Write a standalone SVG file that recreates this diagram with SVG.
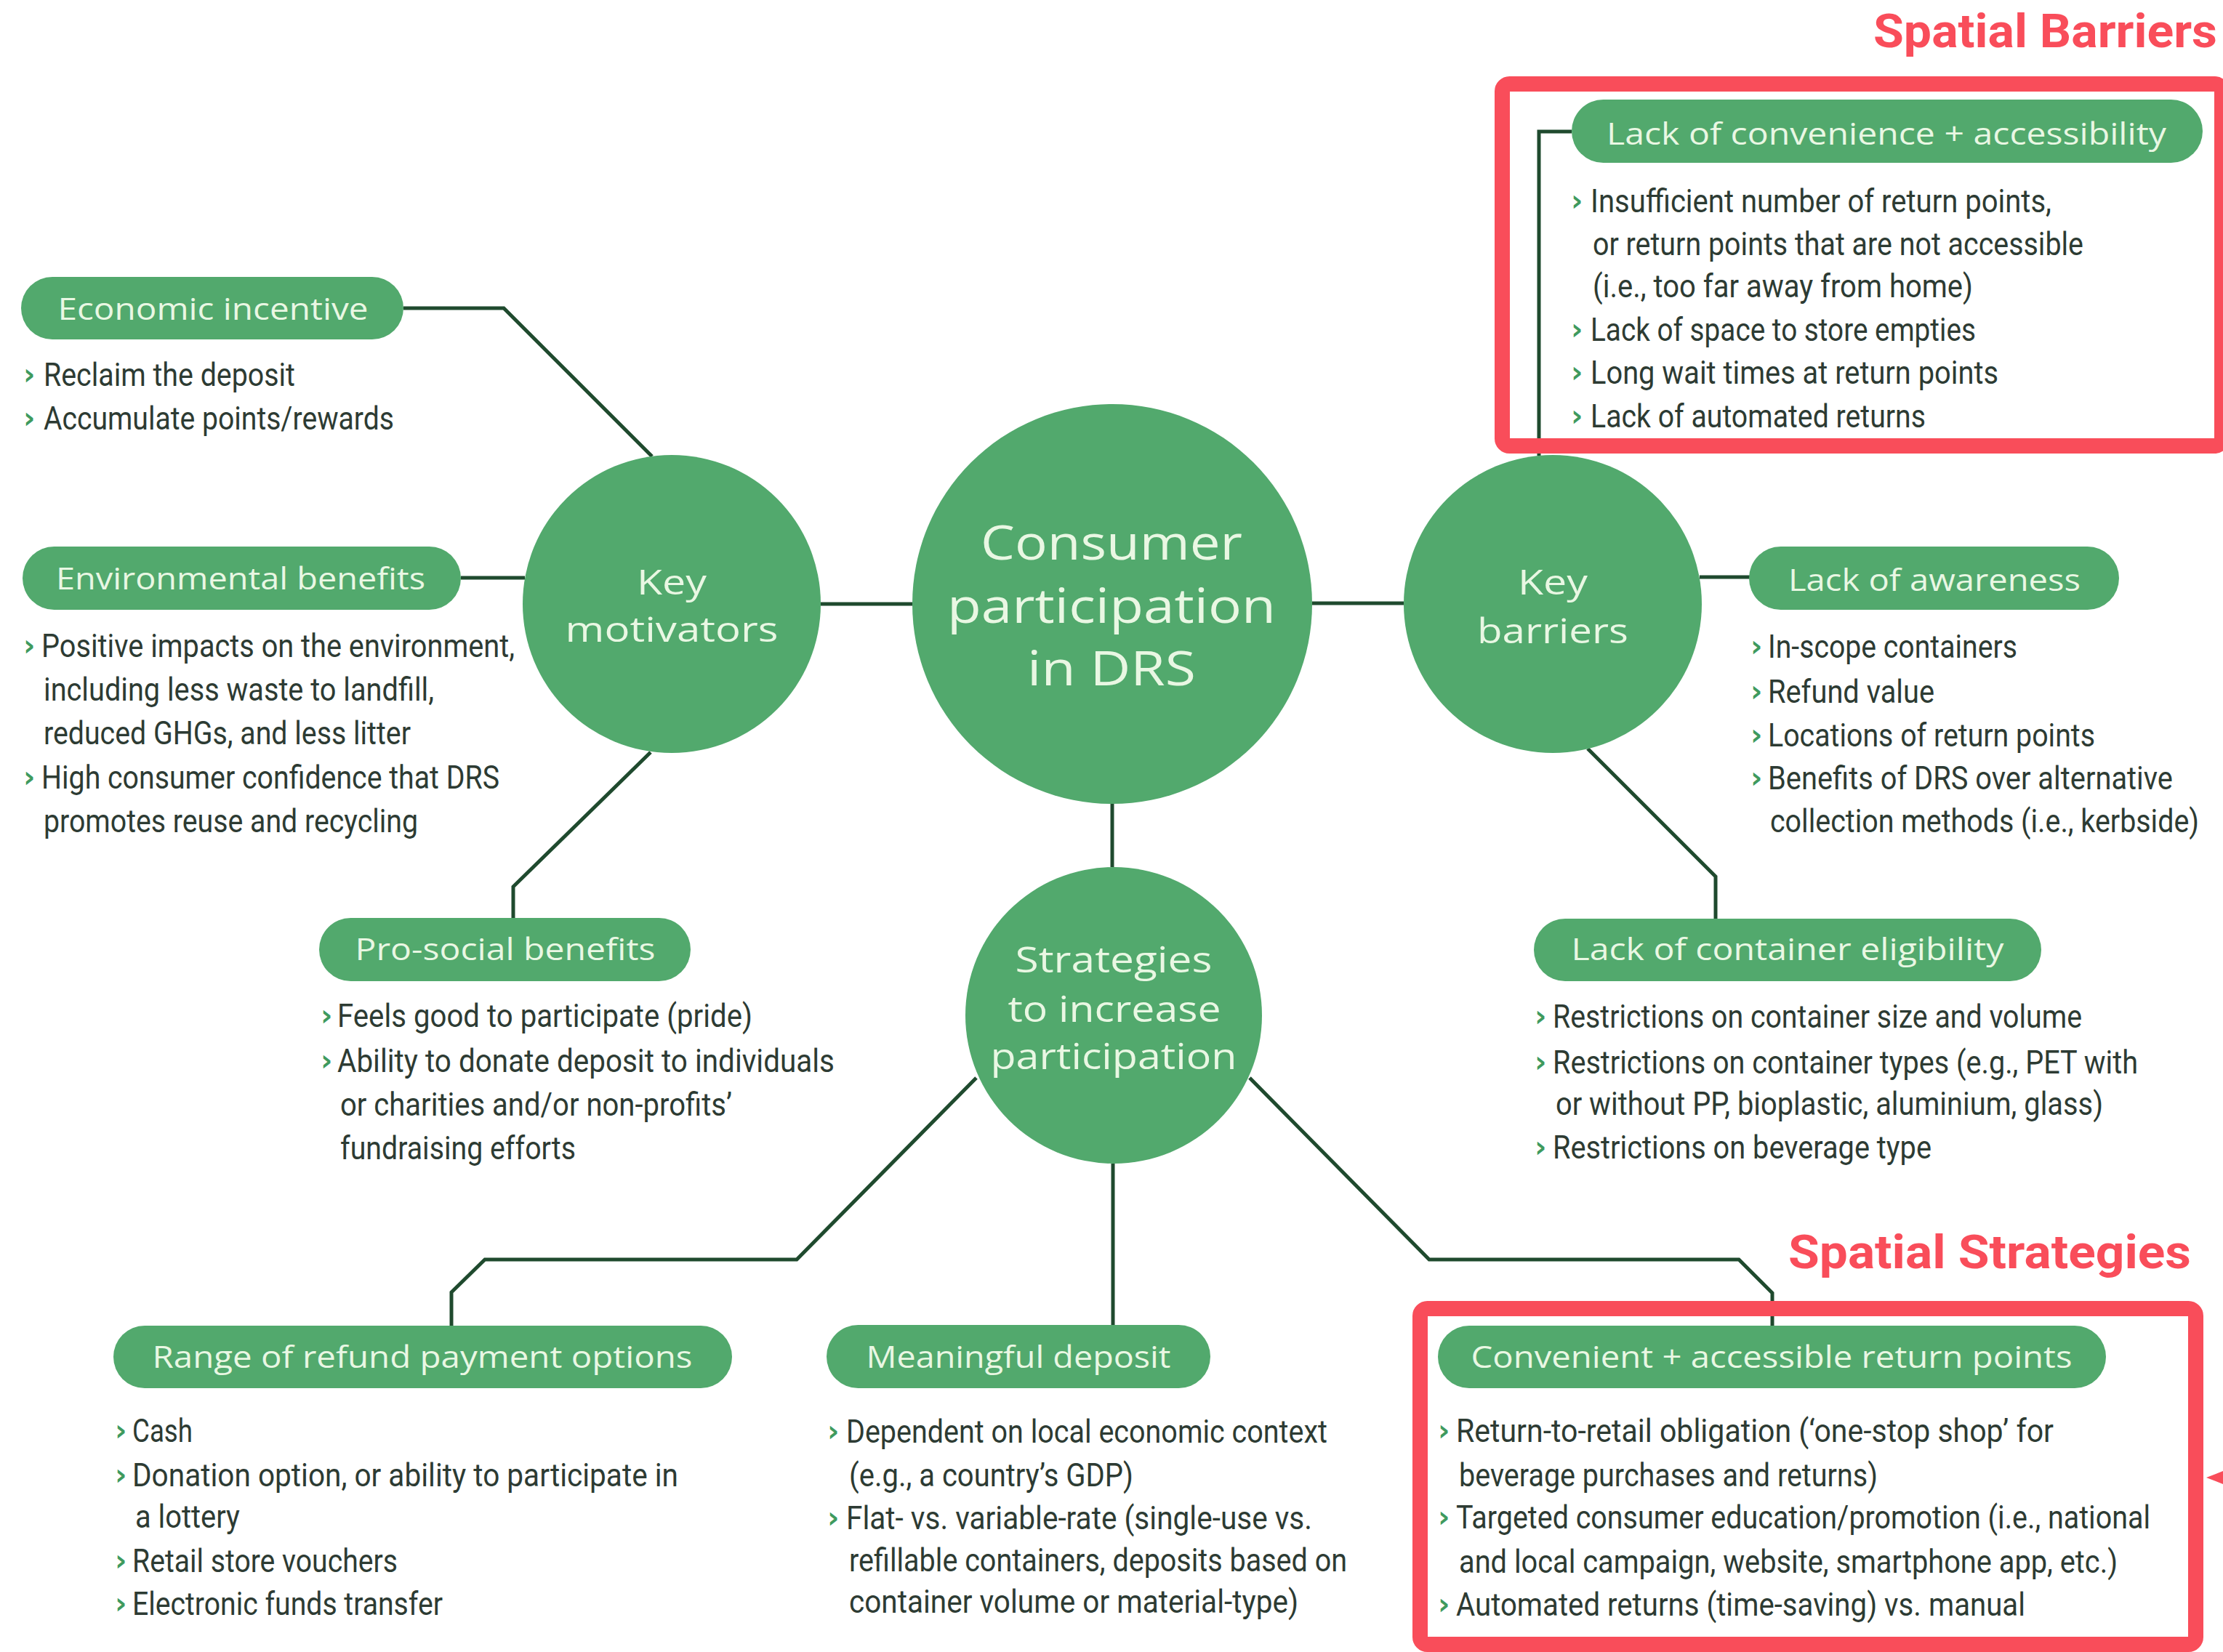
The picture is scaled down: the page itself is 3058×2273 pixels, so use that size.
<svg xmlns="http://www.w3.org/2000/svg" width="3058" height="2273" viewBox="0 0 3058 2273">
<style>
.bg{fill:#ffffff}
.pill{fill:#52A96D}
.circ{fill:#52A96D}
.pt{font-family:"Open Sans","Noto Sans",sans-serif;font-size:42px;fill:#E9F7E3;text-anchor:middle}
.ct{font-family:"Open Sans","Noto Sans",sans-serif;fill:#E9F7E3;text-anchor:middle}
.bt{font-family:Roboto,"Liberation Sans",sans-serif;font-size:44px;fill:#2D3B33}
.chev{font-family:"DejaVu Sans",Roboto,sans-serif;font-size:40px;font-weight:700;fill:#3F9A5E}
.conn{fill:none;stroke:#1F4A2E;stroke-width:5;stroke-linejoin:miter}
.red{fill:none;stroke:#F94D5A;stroke-width:21}
.rt{font-family:Roboto,"Liberation Sans",sans-serif;font-size:64px;font-weight:700;fill:#F94D5A}
</style>
<rect class="bg" x="0" y="0" width="3058" height="2273"/>

<g id="connectors">
<path class="conn" d="M555,424 H693 L897,628"/>
<path class="conn" d="M634,795 H722"/>
<path class="conn" d="M1129,831 H1255"/>
<path class="conn" d="M895,1035 L706,1220 V1263"/>
<path class="conn" d="M1805,830 H1931"/>
<path class="conn" d="M2117,627 V181 H2162"/>
<path class="conn" d="M2338,794 H2408"/>
<path class="conn" d="M2184,1030 L2360,1206 V1265"/>
<path class="conn" d="M1530,1106 V1193"/>
<path class="conn" d="M1343,1483 L1096,1733 H667 L621,1778 V1824"/>
<path class="conn" d="M1531,1601 V1824"/>
<path class="conn" d="M1719,1483 L1966,1733 H2392 L2438,1779 V1825"/>
</g>

<g id="center">
<circle class="circ" cx="1530" cy="831" r="275"/>
<text class="ct" x="1529" y="770" font-size="66" textLength="360" lengthAdjust="spacingAndGlyphs">Consumer</text>
<text class="ct" x="1529" y="857" font-size="66" textLength="452" lengthAdjust="spacingAndGlyphs">participation</text>
<text class="ct" x="1529" y="943" font-size="66" textLength="232" lengthAdjust="spacingAndGlyphs">in DRS</text>
</g>

<g id="key-motivators">
<circle class="circ" cx="924" cy="831" r="205"/>
<text class="ct" x="924" y="818" font-size="48" textLength="96" lengthAdjust="spacingAndGlyphs">Key</text>
<text class="ct" x="924" y="883" font-size="48" textLength="293" lengthAdjust="spacingAndGlyphs">motivators</text>
</g>

<g id="key-barriers">
<circle class="circ" cx="2136" cy="831" r="205"/>
<text class="ct" x="2136" y="818" font-size="48" textLength="96" lengthAdjust="spacingAndGlyphs">Key</text>
<text class="ct" x="2136" y="885" font-size="48" textLength="208" lengthAdjust="spacingAndGlyphs">barriers</text>
</g>

<g id="strategies">
<circle class="circ" cx="1532" cy="1397" r="204"/>
<text class="ct" x="1532" y="1338" font-size="50" textLength="271" lengthAdjust="spacingAndGlyphs">Strategies</text>
<text class="ct" x="1533" y="1406" font-size="50" textLength="293" lengthAdjust="spacingAndGlyphs">to increase</text>
<text class="ct" x="1532" y="1471" font-size="50" textLength="339" lengthAdjust="spacingAndGlyphs">participation</text>
</g>

<g id="economic-incentive">
<rect class="pill" x="29" y="381" width="526" height="86" rx="43"/>
<text class="pt" x="293" y="440" textLength="427" lengthAdjust="spacingAndGlyphs">Economic incentive</text>
<text class="chev" x="32" y="529">›</text>
<text class="bt" x="60" y="531" textLength="346" lengthAdjust="spacingAndGlyphs">Reclaim the deposit</text>
<text class="chev" x="32" y="589">›</text>
<text class="bt" x="60" y="591" textLength="482" lengthAdjust="spacingAndGlyphs">Accumulate points/rewards</text>
</g>

<g id="environmental-benefits">
<rect class="pill" x="31" y="752" width="603" height="87" rx="43.5"/>
<text class="pt" x="331" y="811" textLength="508" lengthAdjust="spacingAndGlyphs">Environmental benefits</text>
<text class="chev" x="32" y="902">›</text>
<text class="bt" x="57" y="904" textLength="651" lengthAdjust="spacingAndGlyphs">Positive impacts on the environment,</text>
<text class="bt" x="60" y="964" textLength="537" lengthAdjust="spacingAndGlyphs">including less waste to landfill,</text>
<text class="bt" x="60" y="1024" textLength="505" lengthAdjust="spacingAndGlyphs">reduced GHGs, and less litter</text>
<text class="chev" x="32" y="1083">›</text>
<text class="bt" x="57" y="1085" textLength="630" lengthAdjust="spacingAndGlyphs">High consumer confidence that DRS</text>
<text class="bt" x="60" y="1145" textLength="515" lengthAdjust="spacingAndGlyphs">promotes reuse and recycling</text>
</g>

<g id="pro-social-benefits">
<rect class="pill" x="439" y="1263" width="511" height="87" rx="43.5"/>
<text class="pt" x="695" y="1321" textLength="413" lengthAdjust="spacingAndGlyphs">Pro-social benefits</text>
<text class="chev" x="441" y="1411">›</text>
<text class="bt" x="464" y="1413" textLength="571" lengthAdjust="spacingAndGlyphs">Feels good to participate (pride)</text>
<text class="chev" x="441" y="1473">›</text>
<text class="bt" x="464" y="1475" textLength="684" lengthAdjust="spacingAndGlyphs">Ability to donate deposit to individuals</text>
<text class="bt" x="468" y="1535" textLength="539" lengthAdjust="spacingAndGlyphs">or charities and/or non-profits’</text>
<text class="bt" x="468" y="1595" textLength="324" lengthAdjust="spacingAndGlyphs">fundraising efforts</text>
</g>

<g id="lack-of-convenience">
<rect class="pill" x="2162" y="137" width="868" height="87" rx="43.5"/>
<text class="pt" x="2595" y="199" textLength="770" lengthAdjust="spacingAndGlyphs">Lack of convenience + accessibility</text>
<text class="chev" x="2161" y="290">›</text>
<text class="bt" x="2188" y="292" textLength="634" lengthAdjust="spacingAndGlyphs">Insufficient number of return points,</text>
<text class="bt" x="2191" y="351" textLength="675" lengthAdjust="spacingAndGlyphs">or return points that are not accessible</text>
<text class="bt" x="2191" y="409" textLength="523" lengthAdjust="spacingAndGlyphs">(i.e., too far away from home)</text>
<text class="chev" x="2161" y="467">›</text>
<text class="bt" x="2188" y="469" textLength="530" lengthAdjust="spacingAndGlyphs">Lack of space to store empties</text>
<text class="chev" x="2161" y="526">›</text>
<text class="bt" x="2188" y="528" textLength="561" lengthAdjust="spacingAndGlyphs">Long wait times at return points</text>
<text class="chev" x="2161" y="586">›</text>
<text class="bt" x="2188" y="588" textLength="461" lengthAdjust="spacingAndGlyphs">Lack of automated returns</text>
</g>

<g id="lack-of-awareness">
<rect class="pill" x="2406" y="752" width="509" height="87" rx="43.5"/>
<text class="pt" x="2661" y="813" textLength="402" lengthAdjust="spacingAndGlyphs">Lack of awareness</text>
<text class="chev" x="2408" y="903">›</text>
<text class="bt" x="2432" y="905" textLength="343" lengthAdjust="spacingAndGlyphs">In-scope containers</text>
<text class="chev" x="2408" y="965">›</text>
<text class="bt" x="2432" y="967" textLength="229" lengthAdjust="spacingAndGlyphs">Refund value</text>
<text class="chev" x="2408" y="1025">›</text>
<text class="bt" x="2432" y="1027" textLength="450" lengthAdjust="spacingAndGlyphs">Locations of return points</text>
<text class="chev" x="2408" y="1084">›</text>
<text class="bt" x="2432" y="1086" textLength="557" lengthAdjust="spacingAndGlyphs">Benefits of DRS over alternative</text>
<text class="bt" x="2435" y="1145" font-size="40" textLength="590" lengthAdjust="spacingAndGlyphs">collection methods (i.e., kerbside)</text>
</g>

<g id="lack-of-container-eligibility">
<rect class="pill" x="2110" y="1264" width="698" height="86" rx="43"/>
<text class="pt" x="2459" y="1321" textLength="595" lengthAdjust="spacingAndGlyphs">Lack of container eligibility</text>
<text class="chev" x="2111" y="1412">›</text>
<text class="bt" x="2136" y="1414" textLength="728" lengthAdjust="spacingAndGlyphs">Restrictions on container size and volume</text>
<text class="chev" x="2111" y="1475">›</text>
<text class="bt" x="2136" y="1477" textLength="805" lengthAdjust="spacingAndGlyphs">Restrictions on container types (e.g., PET with</text>
<text class="bt" x="2140" y="1534" textLength="753" lengthAdjust="spacingAndGlyphs">or without PP, bioplastic, aluminium, glass)</text>
<text class="chev" x="2111" y="1592">›</text>
<text class="bt" x="2136" y="1594" textLength="521" lengthAdjust="spacingAndGlyphs">Restrictions on beverage type</text>
</g>

<g id="refund-payment-options">
<rect class="pill" x="156" y="1824" width="851" height="86" rx="43"/>
<text class="pt" x="581" y="1882" textLength="743" lengthAdjust="spacingAndGlyphs">Range of refund payment options</text>
<text class="chev" x="158" y="1982">›</text>
<text class="bt" x="182" y="1984" textLength="83" lengthAdjust="spacingAndGlyphs">Cash</text>
<text class="chev" x="158" y="2043">›</text>
<text class="bt" x="182" y="2045" textLength="751" lengthAdjust="spacingAndGlyphs">Donation option, or ability to participate in</text>
<text class="bt" x="186" y="2102" textLength="144" lengthAdjust="spacingAndGlyphs">a lottery</text>
<text class="chev" x="158" y="2161">›</text>
<text class="bt" x="182" y="2163" textLength="365" lengthAdjust="spacingAndGlyphs">Retail store vouchers</text>
<text class="chev" x="158" y="2220">›</text>
<text class="bt" x="182" y="2222" textLength="427" lengthAdjust="spacingAndGlyphs">Electronic funds transfer</text>
</g>

<g id="meaningful-deposit">
<rect class="pill" x="1137" y="1823" width="528" height="87" rx="43.5"/>
<text class="pt" x="1401" y="1882" textLength="419" lengthAdjust="spacingAndGlyphs">Meaningful deposit</text>
<text class="chev" x="1138" y="1983">›</text>
<text class="bt" x="1164" y="1985" textLength="662" lengthAdjust="spacingAndGlyphs">Dependent on local economic context</text>
<text class="bt" x="1168" y="2045" textLength="391" lengthAdjust="spacingAndGlyphs">(e.g., a country’s GDP)</text>
<text class="chev" x="1138" y="2102">›</text>
<text class="bt" x="1164" y="2104" textLength="641" lengthAdjust="spacingAndGlyphs">Flat- vs. variable-rate (single-use vs.</text>
<text class="bt" x="1168" y="2162" textLength="685" lengthAdjust="spacingAndGlyphs">refillable containers, deposits based on</text>
<text class="bt" x="1168" y="2219" textLength="618" lengthAdjust="spacingAndGlyphs">container volume or material-type)</text>
</g>

<g id="convenient-return-points">
<rect class="pill" x="1978" y="1824" width="919" height="86" rx="43"/>
<text class="pt" x="2437" y="1882" textLength="827" lengthAdjust="spacingAndGlyphs">Convenient + accessible return points</text>
<text class="chev" x="1978" y="1982">›</text>
<text class="bt" x="2003" y="1984" textLength="822" lengthAdjust="spacingAndGlyphs">Return-to-retail obligation (‘one-stop shop’ for</text>
<text class="bt" x="2007" y="2045" textLength="576" lengthAdjust="spacingAndGlyphs">beverage purchases and returns)</text>
<text class="chev" x="1978" y="2101">›</text>
<text class="bt" x="2003" y="2103" font-size="40" textLength="955" lengthAdjust="spacingAndGlyphs">Targeted consumer education/promotion (i.e., national</text>
<text class="bt" x="2007" y="2164" textLength="906" lengthAdjust="spacingAndGlyphs">and local campaign, website, smartphone app, etc.)</text>
<text class="chev" x="1978" y="2221">›</text>
<text class="bt" x="2003" y="2223" textLength="783" lengthAdjust="spacingAndGlyphs">Automated returns (time-saving) vs. manual</text>
</g>

<g id="spatial-barriers">
<rect class="red" x="2066.5" y="115.5" width="990" height="498" rx="10"/>
<text class="rt" x="2577" y="65" textLength="473" lengthAdjust="spacingAndGlyphs">Spatial Barriers</text>
</g>

<g id="spatial-strategies">
<rect class="red" x="1953.5" y="1800.5" width="1067" height="462" rx="10"/>
<text class="rt" x="2460" y="1745" textLength="554" lengthAdjust="spacingAndGlyphs">Spatial Strategies</text>
<polygon points="3035,2033 3058,2024 3058,2042" fill="#F94D5A"/>
</g>
</svg>
